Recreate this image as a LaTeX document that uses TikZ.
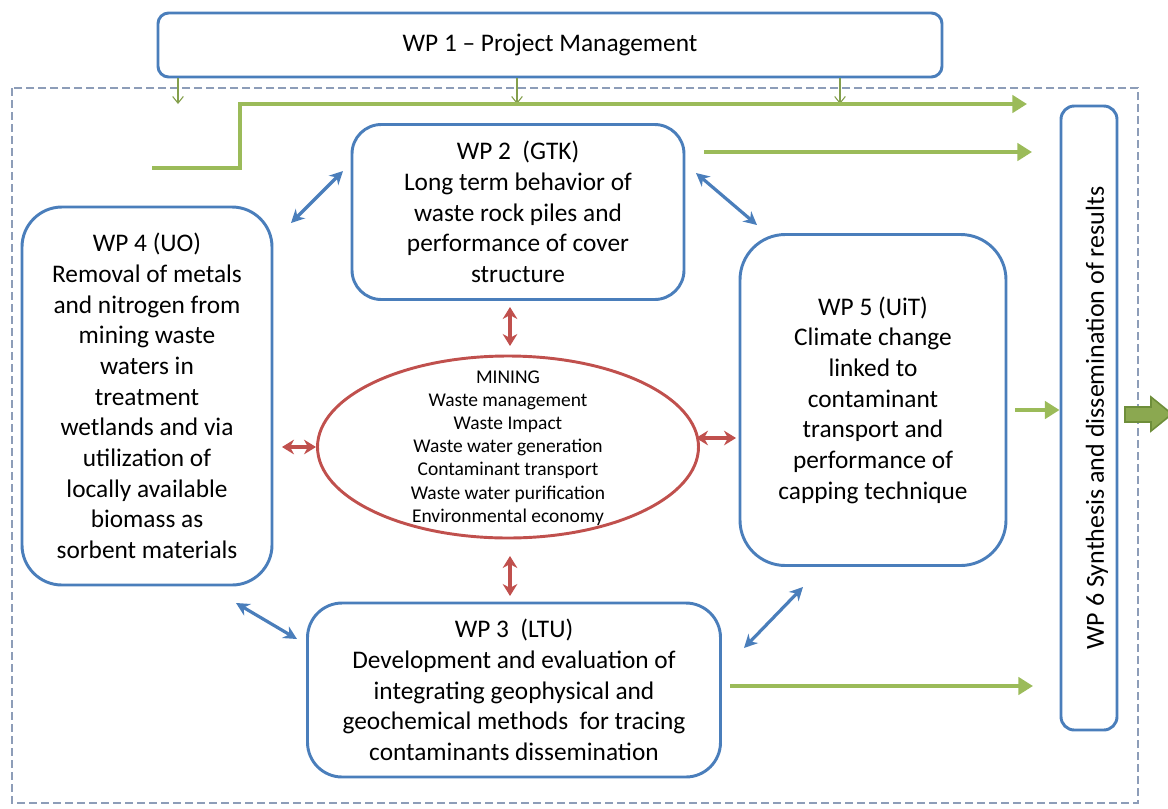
\documentclass[tikz,border=0pt]{standalone}
\usepackage{fontspec}
\setmainfont{Carlito}
\usetikzlibrary{arrows.meta,shapes.geometric}
\definecolor{wpblue}{HTML}{4A7EBB}
\definecolor{wpgreen}{HTML}{9BBB59}
\definecolor{wpred}{HTML}{C0504D}
\definecolor{dashgray}{HTML}{8D9DB8}
\definecolor{darkgreen}{HTML}{6E8E3A}
\tikzset{
  wpbox/.style={draw=wpblue, line width=2.2pt, fill=white, align=center, font=\fontsize{19}{23}\selectfont, inner sep=0pt},
  greenarrow/.style={draw=wpgreen, line width=3.6pt, -{Triangle[length=11pt,width=13pt]}},
  thinarrow/.style={draw=wpgreen!85!black, line width=0.8pt, -{Straight Barb[length=5pt,width=8pt]}},
  bluearrow/.style={draw=wpblue, line width=2.4pt, {Stealth[length=10pt,width=10pt]}-{Stealth[length=10pt,width=10pt]}},
  redarrow/.style={draw=wpred, line width=2.4pt, {Stealth[length=9pt,width=11pt]}-{Stealth[length=9pt,width=11pt]}},
}
\begin{document}
\begin{tikzpicture}[x=0.75pt,y=-0.75pt]
\useasboundingbox (0,0) rectangle (1168,808);
% outer dashed frame
\draw[dashgray, line width=0.8pt, dash pattern=on 6pt off 3pt] (12,88) rectangle (1138,803);

% WP1
\node[wpbox, rounded corners=8pt, minimum width=784*0.75pt, minimum height=64*0.75pt] (wp1) at (550,45) {WP 1 -- Project Management};
\coordinate (t1) at (178,104);
\coordinate (t2) at (517,104);
\coordinate (t3) at (840,104);
\draw[thinarrow] (wp1.south -| t1) -- (t1);
\draw[thinarrow] (wp1.south -| t2) -- (t2);
\draw[thinarrow] (wp1.south -| t3) -- (t3);

% WP6
\node[wpbox, rounded corners=10pt, minimum width=56*0.75pt, minimum height=624*0.75pt] (wp6) at (1089,418) {};
\node[rotate=90, font=\fontsize{19.5}{22}\selectfont] (wp6t) at (1097,418) {WP 6 Synthesis and dissemination of results};

% WP2
\node[wpbox, rounded corners=22pt, minimum width=332*0.75pt, minimum height=175*0.75pt] (wp2) at (518,212) {WP 2\ \ (GTK)\\Long term behavior of\\waste rock piles and\\performance of cover\\structure};

% WP4
\node[wpbox, rounded corners=30pt, minimum width=250*0.75pt, minimum height=378*0.75pt] (wp4) at (147,396) {WP 4 (UO)\\Removal of metals\\and nitrogen from\\mining waste\\waters in\\treatment\\wetlands and via\\utilization of\\locally available\\biomass as\\sorbent materials};

% WP5
\node[wpbox, rounded corners=34pt, minimum width=266*0.75pt, minimum height=331*0.75pt] (wp5) at (873,400) {WP 5 (UiT)\\Climate change\\linked to\\contaminant\\transport and\\performance of\\capping technique};

% WP3
\node[wpbox, rounded corners=26pt, minimum width=413*0.75pt, minimum height=174*0.75pt] (wp3) at (514,690) {WP 3\ \ (LTU)\\Development and evaluation of\\integrating geophysical and\\geochemical methods\ \ for tracing\\contaminants dissemination};

% Ellipse
\node[ellipse, draw=wpred, line width=2.2pt, minimum width=381*0.75pt, minimum height=182*0.75pt, inner sep=0pt] (mine) at (508,447) {};
\node[align=center, font=\fontsize{14.6}{17.4}\selectfont] (minet) at (508,448) {MINING\\Waste management\\Waste Impact\\Waste water generation\\Contaminant transport\\Waste water purification\\Environmental economy};

% red arrows
\coordinate (r1a) at (510,307); \coordinate (r1b) at (510,346);
\coordinate (r2a) at (510,556); \coordinate (r2b) at (510,596);
\coordinate (r3a) at (282,447); \coordinate (r3b) at (316,447);
\coordinate (r4a) at (696,438); \coordinate (r4b) at (736,438);
\draw[redarrow] (r1a) -- (r1b);
\draw[redarrow] (r2a) -- (r2b);
\draw[redarrow] (r3a) -- (r3b);
\draw[redarrow] (r4a) -- (r4b);

% blue arrows
\coordinate (b1a) at (291,223); \coordinate (b1b) at (343,171);
\coordinate (b2a) at (696,173); \coordinate (b2b) at (757,225);
\coordinate (b3a) at (236,603); \coordinate (b3b) at (297,639);
\coordinate (b4a) at (744,648); \coordinate (b4b) at (803,587);
\draw[bluearrow] (b1a) -- (b1b);
\draw[bluearrow] (b2a) -- (b2b);
\draw[bluearrow] (b3a) -- (b3b);
\draw[bluearrow] (b4a) -- (b4b);

% green arrows
\coordinate (g1s) at (152,168);
\coordinate (g1e) at (1027,104);
\draw[greenarrow] (g1s) -- (240,168) -- (240,104) -- (g1e);
\coordinate (g2s) at (704,152); \coordinate (g2e) at (1032,152);
\draw[greenarrow] (g2s) -- (g2e);
\coordinate (g3s) at (1015,410);
\draw[greenarrow] (g3s) -- (wp6.west |- g3s);
\coordinate (g4s) at (730,686); \coordinate (g4e) at (1033,686);
\draw[greenarrow] (g4s) -- (g4e);

% big output arrow
\draw[draw=darkgreen, fill=wpgreen!90!black, line width=1.2pt]
  (1125,407) -- (1151,407) -- (1151,397) -- (1172,414) -- (1151,431) -- (1151,422) -- (1125,422) -- cycle;
\end{tikzpicture}
\end{document}
